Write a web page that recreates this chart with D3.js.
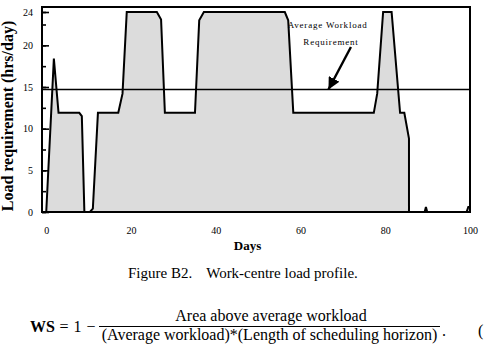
<!DOCTYPE html>
<html>
<head>
<meta charset="utf-8">
<script src="https://cdn.jsdelivr.net/npm/d3@7"></script>
<style>
  body{margin:0;background:#fff;}
  text{font-family:"Liberation Serif","Times New Roman",serif;}
</style>
</head>
<body>
<svg id="drawing_region"></svg>
<script>
// load profile (day, hrs/day)
const days = [0, 1.8, 2.9, 7.8, 8.4, 9.0, 10.3, 11.0, 12.2, 17.0, 18.0, 19.0, 26.1, 27.1, 28.0,
              35.1, 36.1, 37.2, 56.3, 57.1, 58.3, 77.3, 78.1, 79.5, 81.5, 83.5, 84.5, 85.6, 85.6,
              89.3, 89.6, 89.9, 99.2, 99.6, 100];
const load = [0, 18.4, 11.9, 11.9, 11.5, 0, 0, 0.4, 11.9, 11.9, 14.2, 24, 24, 23.1, 11.9,
              11.9, 23, 24, 24, 23, 11.9, 11.9, 14.2, 24, 24, 11.9, 11.9, 8.8, 0,
              0, 0.6, 0, 0, 0.6, 0.6];
const average_workload = 14.7;

const x_ticks = [0, 20, 40, 60, 80, 100];
const y_ticks = [0, 5, 10, 15, 20, 24];
const y_minor_ticks = [0, 2.5, 5, 7.5, 10, 12.5, 15, 17.5, 20, 22.5, 24];

const config = {
    width:487,
    height:360,
    margin:{top:7,right:17,bottom:148,left:42}
};

const data = days.map((d,i)=>({day:d, value:load[i]}));

const svg = d3.select("#drawing_region")
    .attr("width",config.width)
    .attr("height",config.height);

const inner_width = config.width-config.margin.left-config.margin.right;
const inner_height = config.height-config.margin.top-config.margin.bottom;

const chart = svg.append("g")
    .attr("transform",`translate(${config.margin.left},${config.margin.top})`);

const xscale = d3.scaleLinear()
    .domain([-1,100])
    .range([0,inner_width]);
const yscale = d3.scaleLinear()
    .domain([0,24.6])
    .range([inner_height,0]);

// filled load profile
const area = d3.area()
    .x(d=>xscale(d.day))
    .y0(yscale(0))
    .y1(d=>yscale(d.value));
const line = d3.line()
    .x(d=>xscale(d.day))
    .y(d=>yscale(d.value));

chart.append("path")
    .datum(data)
    .attr("d",area)
    .attr("fill","#dcdcdc");

chart.append("path")
    .datum(data)
    .attr("d",line)
    .attr("fill","none")
    .attr("stroke","black")
    .attr("stroke-width",2);

// average line
chart.append("line")
    .attr("x1",0)
    .attr("x2",inner_width)
    .attr("y1",yscale(average_workload))
    .attr("y2",yscale(average_workload))
    .attr("stroke","black")
    .attr("stroke-width",1.6);

// frame
chart.append("rect")
    .attr("width",inner_width)
    .attr("height",inner_height)
    .attr("fill","none")
    .attr("stroke","black")
    .attr("stroke-width",2);

// y axis: short inner ticks, then labelled ones
const yminor = d3.axisLeft(yscale)
    .tickValues(y_minor_ticks)
    .tickSize(-4)
    .tickFormat("");
chart.append("g").call(yminor)
    .call(g=>g.select(".domain").remove())
    .selectAll("line").attr("stroke-width",1.6);

const yaxis = d3.axisLeft(yscale)
    .tickValues(y_ticks)
    .tickSize(-7)
    .tickPadding(9);
chart.append("g").call(yaxis)
    .call(g=>g.select(".domain").remove())
    .call(g=>g.selectAll("line").attr("stroke-width",1.6))
    .selectAll("text")
    .attr("font-family","Liberation Serif")
    .attr("font-size",10);

const xaxis = d3.axisBottom(xscale)
    .tickValues(x_ticks)
    .tickSize(0)
    .tickPadding(15);
chart.append("g")
    .attr("transform",`translate(0,${inner_height})`)
    .call(xaxis)
    .call(g=>g.select(".domain").remove())
    .selectAll("text")
    .attr("font-family","Liberation Serif")
    .attr("font-size",10);

// axis titles
chart.append("text")
    .attr("x",xscale(47.5))
    .attr("y",inner_height+38)
    .attr("text-anchor","middle")
    .attr("font-weight","bold")
    .attr("font-size",13)
    .text("Days");

svg.append("text")
    .attr("transform","translate(13,116) rotate(-90)")
    .attr("text-anchor","middle")
    .attr("font-weight","bold")
    .attr("font-size",16)
    .text("Load requirement (hrs/day)");

// annotation
chart.append("text")
    .attr("x",xscale(66.4))
    .attr("y",yscale(22.1))
    .attr("text-anchor","middle")
    .attr("font-size",9)
    .attr("letter-spacing",0.8)
    .text("Average Workload");
chart.append("text")
    .attr("x",xscale(67.2))
    .attr("y",yscale(20.1))
    .attr("text-anchor","middle")
    .attr("font-size",9)
    .attr("letter-spacing",0.8)
    .text("Requirement");

svg.append("defs").append("marker")
    .attr("id","head")
    .attr("viewBox","0 0 10 10")
    .attr("refX",10)
    .attr("refY",5)
    .attr("markerWidth",5)
    .attr("markerHeight",5)
    .attr("markerUnits","strokeWidth")
    .attr("orient","auto")
    .append("path")
    .attr("d","M0,0 L10,5 L0,10 Z")
    .attr("fill","black");

chart.append("line")
    .attr("x1",xscale(71.9))
    .attr("y1",yscale(19.8))
    .attr("x2",xscale(66.6))
    .attr("y2",yscale(average_workload))
    .attr("stroke","black")
    .attr("stroke-width",2.4)
    .attr("marker-end","url(#head)");

// caption
const caption = svg.append("text")
    .attr("x",128)
    .attr("y",278)
    .attr("font-size",15);
caption.append("tspan").text("Figure B2.");
caption.append("tspan").attr("dx",14).text("Work-centre load profile.");

// formula
const formula = svg.append("g").attr("font-size",16);
formula.append("text").attr("x",30).attr("y",332).attr("font-weight","bold").text("WS");
formula.append("text").attr("x",64).attr("y",332).attr("text-anchor","middle").text("=");
formula.append("text").attr("x",77.5).attr("y",332).attr("text-anchor","middle").text("1");
formula.append("text").attr("x",91).attr("y",332).attr("text-anchor","middle").text("\u2212");
formula.append("text").attr("x",271).attr("y",320.5).attr("text-anchor","middle").text("Area above average workload");
formula.append("line")
    .attr("x1",99).attr("x2",440)
    .attr("y1",326.5).attr("y2",326.5)
    .attr("stroke","black").attr("stroke-width",1.2);
formula.append("text").attr("x",269.5).attr("y",340).attr("text-anchor","middle").text("(Average workload)*(Length of scheduling horizon)");
formula.append("text").attr("x",442).attr("y",336).text(".");
formula.append("text").attr("x",478).attr("y",336).text("(");
</script>
</body>
</html>
